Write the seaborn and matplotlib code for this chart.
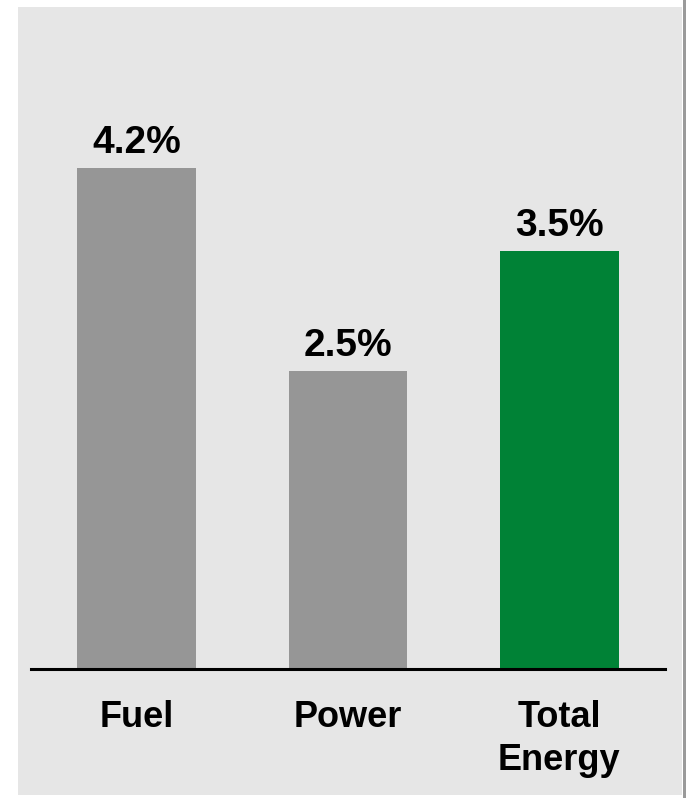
import matplotlib
matplotlib.use('Agg')
import matplotlib.pyplot as plt
import seaborn as sns
import pandas as pd
from matplotlib.patches import Rectangle

# chart data
categories = ['Fuel', 'Power', 'Total\nEnergy']
values = [4.2, 2.5, 3.5]
bar_colors = ['#969696', '#969696', '#008236']

sns.set_style('white')
plt.rcParams['font.family'] = ['Liberation Sans', 'DejaVu Sans']

df = pd.DataFrame({'category': categories, 'value': values})

fig = plt.figure(figsize=(6.86, 7.98), dpi=100)
fig.patch.set_facecolor('white')

# grey panel behind the chart
fig.patches.append(Rectangle((18 / 686, 3 / 798), 664 / 686, 788 / 798,
                             transform=fig.transFigure, facecolor='#e6e6e6',
                             edgecolor='none', zorder=-10))
fig.patches.append(Rectangle((683 / 686, 0), 3 / 686, 1,
                             transform=fig.transFigure, facecolor='#9a9a9a',
                             edgecolor='none', zorder=-10))

ax = fig.add_axes([31 / 686, 129 / 798, 634 / 686, 597 / 798])
ax.set_facecolor('none')

sns.barplot(data=df, x='category', y='value', hue='category',
            palette=bar_colors, width=0.56, saturation=1, legend=False,
            linewidth=0, ax=ax)

ax.set_xlim(-0.5, 2.5)
ax.set_ylim(0, 5.0)

for i, v in enumerate(values):
    ax.annotate(f'{v}%', (i, v), xytext=(0, 5), textcoords='offset points',
                ha='center', va='bottom', fontsize=28, fontweight='bold',
                color='black')

for side in ['top', 'right', 'left']:
    ax.spines[side].set_visible(False)
ax.spines['bottom'].set_color('black')
ax.spines['bottom'].set_linewidth(2.2)

ax.set_yticks([])
ax.set_xlabel('')
ax.set_ylabel('')
ax.tick_params(axis='x', length=0, pad=22, colors='black')
for lbl in ax.get_xticklabels():
    lbl.set_fontsize(26)
    lbl.set_fontweight('bold')
    lbl.set_color('black')
    lbl.set_linespacing(1.32)
    lbl.set_verticalalignment('top')

fig.savefig('out.png', dpi=100)
